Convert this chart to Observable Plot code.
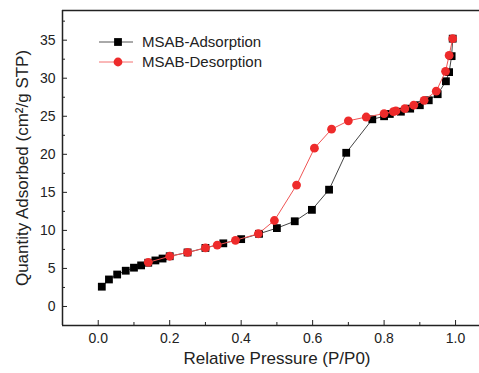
<!DOCTYPE html>
<html><head><meta charset="utf-8">
<script src="https://cdn.jsdelivr.net/npm/d3@7"></script>
<script src="https://cdn.jsdelivr.net/npm/@observablehq/plot@0.6"></script>
<style>
body{margin:0;background:#fff}
svg{display:block;font-family:"Liberation Sans",Arial,sans-serif}
</style>
</head><body><div id="chart"></div>
<script>
// Adsorption branch (black squares)
const adsX = [0.010, 0.030, 0.053, 0.077, 0.100, 0.120, 0.140, 0.160, 0.180, 0.200, 0.250, 0.300, 0.350, 0.400, 0.450, 0.500, 0.550, 0.598, 0.646, 0.694, 0.767, 0.800, 0.816, 0.847, 0.873, 0.900, 0.925, 0.950, 0.973, 0.982, 0.989, 0.992];
const adsY = [2.6, 3.55, 4.2, 4.7, 5.1, 5.4, 5.75, 6.05, 6.3, 6.6, 7.1, 7.7, 8.3, 8.85, 9.55, 10.3, 11.2, 12.7, 15.35, 20.2, 24.6, 25.0, 25.3, 25.6, 26.0, 26.45, 27.1, 27.9, 29.6, 30.8, 32.9, 35.2];
// Desorption branch (red circles)
const desX = [0.992, 0.982, 0.972, 0.946, 0.912, 0.883, 0.858, 0.833, 0.826, 0.800, 0.750, 0.700, 0.653, 0.605, 0.555, 0.493, 0.448, 0.384, 0.333, 0.300, 0.250, 0.200, 0.140];
const desY = [35.2, 33.0, 30.9, 28.3, 27.1, 26.45, 26.0, 25.7, 25.6, 25.35, 24.9, 24.4, 23.3, 20.8, 15.96, 11.3, 9.56, 8.7, 8.07, 7.7, 7.1, 6.6, 5.8];
const seriesNames = ["MSAB-Adsorption", "MSAB-Desorption"];
const xMajor = [0.0, 0.2, 0.4, 0.6, 0.8, 1.0];
const xMinor = [0.1, 0.3, 0.5, 0.7, 0.9];
const yMajor = [0, 5, 10, 15, 20, 25, 30, 35];
const yMinor = [2.5, 7.5, 12.5, 17.5, 22.5, 27.5, 32.5, 37.5];
const xTitle = "Relative Pressure (P/P0)";
const yTitle = "Quantity Adsorbed (cm\u00B2/g STP)";

const ads = adsX.map((x, i) => ({x, y: adsY[i]}));
const des = desX.map((x, i) => ({x, y: desY[i]}));
const xDom = [-0.1, 1.067], yDom = [-2.5, 38.9];
const W = 479, H = 373;
const black = "#000", red = "#ee2b2b";

const chart = Plot.plot({
  width: W, height: H,
  marginLeft: 62, marginRight: 0, marginTop: 10, marginBottom: 48,
  x: {domain: xDom},
  y: {domain: yDom},
  style: {fontFamily: '"Liberation Sans", Arial, sans-serif', fontSize: "14px", color: "#222", background: "#fff"},
  marks: [
    Plot.axisX(xMajor, {tickSize: -5, tickPadding: 13, tickFormat: d3.format(".1f"), label: null, fontSize: 14}),
    Plot.axisX(xMinor, {tickSize: -3, tickFormat: () => "", label: null}),
    Plot.axisY(yMajor, {tickSize: -5, tickPadding: 12, tickFormat: d3.format("d"), label: null, fontSize: 14}),
    Plot.axisY(yMinor, {tickSize: -3, tickFormat: () => "", label: null}),
    Plot.ruleX([xDom[0]], {stroke: "#222", strokeWidth: 1.5}),
    Plot.ruleY([yDom[0], yDom[1]], {stroke: "#222", strokeWidth: 1.5}),
    Plot.line(ads, {x: "x", y: "y", stroke: "#444", strokeWidth: 1}),
    Plot.dot(ads, {x: "x", y: "y", symbol: "square", r: 4.4, fill: black}),
    Plot.line(des, {x: "x", y: "y", stroke: "#f05555", strokeWidth: 1}),
    Plot.dot(des, {x: "x", y: "y", r: 4.4, fill: red})
  ]
});
document.getElementById("chart").appendChild(chart);

const svg = d3.select(chart);
// axis titles
svg.append("text").attr("x", 277).attr("y", 364).attr("text-anchor", "middle")
  .attr("font-size", 17).attr("fill", "#222").text(xTitle);
svg.append("text").attr("transform", "translate(28,168) rotate(-90)").attr("text-anchor", "middle")
  .attr("font-size", 17).attr("fill", "#222").text(yTitle);
// legend
const lg = svg.append("g");
const items = [
  {name: seriesNames[0], line: "#555", fill: black, sym: d3.symbolSquare, y: 42},
  {name: seriesNames[1], line: "#f47070", fill: red, sym: d3.symbolCircle, y: 62}
];
items.forEach(it => {
  lg.append("line").attr("x1", 99).attr("x2", 133).attr("y1", it.y).attr("y2", it.y)
    .attr("stroke", it.line).attr("stroke-width", 1);
  lg.append("path").attr("transform", `translate(118,${it.y})`)
    .attr("d", d3.symbol(it.sym, Math.PI * 4.4 * 4.4)()).attr("fill", it.fill);
  lg.append("text").attr("x", 142).attr("y", it.y).attr("dy", "0.35em").attr("text-anchor", "start")
    .attr("font-size", 15).attr("fill", "#222").text(it.name);
});
</script>
</body></html>
